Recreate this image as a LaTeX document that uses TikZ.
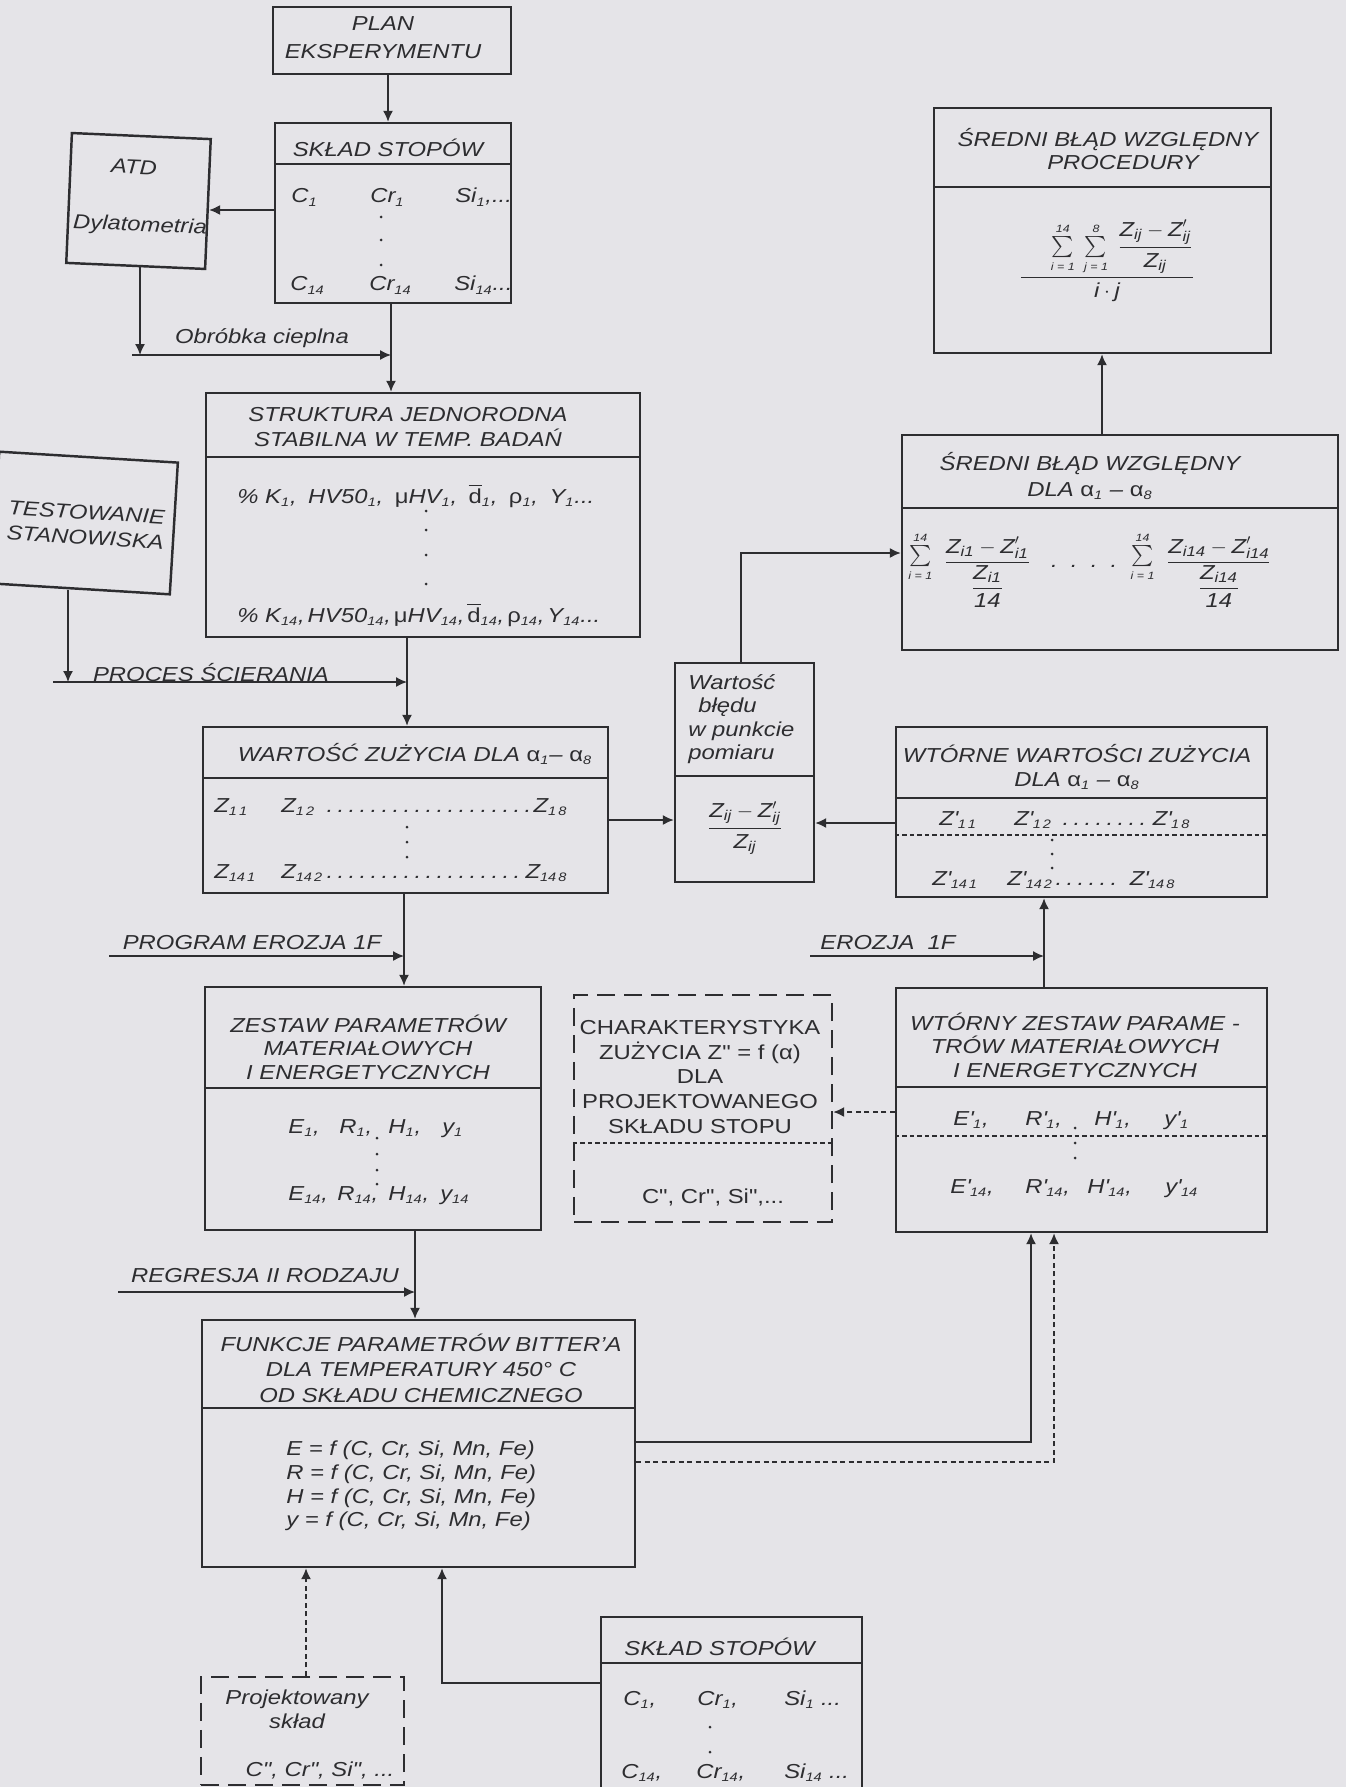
\documentclass[tikz,border=0pt]{standalone}
\usepackage{amsmath}
\usepackage{fontspec}
\setmainfont{Liberation Sans}[FakeStretch=1.18]
\newfontfamily\rawsans{Liberation Sans}[FakeStretch=1.18]
\usetikzlibrary{arrows.meta,fit,calc}
\definecolor{ink}{RGB}{45,45,48}
\definecolor{paper}{RGB}{229,228,232}
\newcommand{\lo}[1]{\textsubscript{\fontsize{7}{8}\selectfont #1}}
\newcommand{\zv}[1]{\text{Z}_{\text{#1}}}
\newcommand{\zq}[1]{\text{Z}'_{\text{#1}}}
\newcommand{\cellw}[2]{\makebox[#1][l]{#2}}
\newcommand{\dotfil}{\leaders\hbox to 0.22cm{\hss.\hss}\hfill}
\newcommand{\prm}{\textquotesingle}
\newcommand{\dq}{{\rawsans"}}
\newcommand{\zfrac}[1]{\dfrac{\zv{#1}-\zq{#1}}{\genfrac{}{}{}{0}{\zv{#1}}{\text{14}}}}
\newcommand{\lsum}[2]{\sum\limits_{\mbox{\fontsize{6}{6}\selectfont #1}}^{\mbox{\fontsize{6}{6}\selectfont #2}}}
\begin{document}
\begin{tikzpicture}[x=0.02cm, y=-0.02cm,
  every node/.style={font=\fontsize{11.5}{13.4}\selectfont\itshape, text=ink, inner sep=0pt},
  up/.style={font=\fontsize{11.5}{14.2}\selectfont\upshape},
  box/.style={draw=ink, line width=1.4pt},
  dbox/.style={draw=ink, line width=1.4pt, dash pattern=on 0.36cm off 0.18cm},
  conn/.style={draw=ink, line width=0.85pt},
  arr/.style={conn, -{Latex[length=0.22cm,width=0.2cm]}},
  darr/.style={arr, dash pattern=on 0.1cm off 0.07cm},
  divline/.style={draw=ink, line width=1pt},
  ddiv/.style={draw=ink, line width=0.8pt, dash pattern=on 0.09cm off 0.06cm}
]
\useasboundingbox (0,0) rectangle (1346,1787);
\fill[paper] (0,0) rectangle (1346,1787);

\node[box, fit={(273,7) (511,74)}] (plan) {};
\node[align=center] (planT) at (383,38) {PLAN\\[0.09cm]EKSPERYMENTU};

\node[box, fit={(275,123) (511,303)}] (sklad1) {};
\draw[divline] (sklad1.west |- 0,164) -- (sklad1.east |- 0,164);
\node[anchor=base] (skl1T) at (388,157) {SKŁAD STOPÓW};
\node[anchor=base west] (skl1R1) at (291,203) {\cellw{1.58cm}{C\lo{1}}\cellw{1.7cm}{Cr\lo{1}}Si\lo{1},...};
\node[anchor=base west] (skl1R2) at (290,291) {\cellw{1.58cm}{C\lo{14}}\cellw{1.7cm}{Cr\lo{14}}Si\lo{14}...};
\foreach \y in {217,240,265} \fill[ink] (381,\y) circle (0.03cm);

\node[box, minimum width=2.78cm, minimum height=2.6cm, rotate=-2.5] (atd) at (138.5,201) {};
\node[rotate=-2.5] (atdA) at (134,167) {ATD};
\node[rotate=-2.5] (atdB) at (140,226) {Dylatometria};

\node[box, fit={(206,393) (640,637)}] (struktura) {};
\draw[divline] (struktura.west |- 0,457) -- (struktura.east |- 0,457);
\node[align=center] (strT) at (408,427) {STRUKTURA JEDNORODNA\\[0.03cm]STABILNA W TEMP. BADAŃ};
\node[anchor=base west] (strR1) at (237,503) {\hbox to 7.14cm{\% K\lo{1},\hfil HV50\lo{1},\hfil \textup{μ}HV\lo{1},\hfil \textup{$\overline{\mbox{d}}$}\lo{1},\hfil \textup{ρ}\lo{1},\hfil Y\lo{1}...}};
\node[anchor=base west] (strR2) at (237,622) {\hbox to 7.26cm{\% K\lo{14},\hfil HV50\lo{14},\hfil \textup{μ}HV\lo{14},\hfil \textup{$\overline{\mbox{d}}$}\lo{14},\hfil \textup{ρ}\lo{14},\hfil Y\lo{14}...}};
\foreach \y in {511,530,555,584} \fill[ink] (426,\y) circle (0.03cm);

\node[box, minimum width=3.58cm, minimum height=2.64cm, rotate=-3.5] (testowanie) at (84.5,523) {};
\node[align=center, rotate=-3.5] (tesT) at (86,525) {TESTOWANIE\\[0.03cm]STANOWISKA};

\node[box, fit={(203,727) (608,893)}] (wartosc) {};
\draw[divline] (wartosc.west |- 0,778) -- (wartosc.east |- 0,778);
\node[anchor=base] (warT) at (415,761) {WARTOŚĆ ZUŻYCIA DLA \textup{α}\lo{1}– \textup{α}\lo{8}};
\node[anchor=base west] (warR1) at (214,812) {\hbox to 7.06cm{\cellw{1.34cm}{Z\lo{1\,1}}Z\lo{1\,2}\dotfil Z\lo{1\,8}}};
\node[anchor=base west] (warR2) at (214,878) {\hbox to 7.06cm{\cellw{1.34cm}{Z\lo{14\,1}}Z\lo{14\,2}\dotfil Z\lo{14\,8}}};
\foreach \y in {827,842,857} \fill[ink] (407,\y) circle (0.03cm);

\node[box, fit={(675,663) (814,882)}] (bledu) {};
\draw[divline] (bledu.west |- 0,776) -- (bledu.east |- 0,776);
\node[align=left, anchor=west] (bleT) at (688,719) {Wartość\\\hspace*{0.2cm}błędu\\w punkcie\\pomiaru};
\node (bleF) at (745,828) {$\dfrac{\zv{ij} - \zq{ij}}{\zv{ij}}$};

\node[box, fit={(902,435) (1338,650)}] (sredniDLA) {};
\draw[divline] (sredniDLA.west |- 0,508) -- (sredniDLA.east |- 0,508);
\node[align=center] (sdlT) at (1090,476) {ŚREDNI BŁĄD WZGLĘDNY\\[0.05cm]DLA \textup{α}\lo{1} – \textup{α}\lo{8}};
\node (sdlF) at (1090,570) {$\raisebox{0.12cm}{$\lsum{i = 1}{14}$}\;\;\zfrac{i1}\quad\text{.\ \ .\ \ .\ \ .}\ \ \raisebox{0.12cm}{$\lsum{i = 1}{14}$}\;\;\zfrac{i14}$};

\node[box, fit={(934,108) (1271,353)}] (sredniPROC) {};
\draw[divline] (sredniPROC.west |- 0,187) -- (sredniPROC.east |- 0,187);
\node[align=center] (sprT) at (1108,149) {ŚREDNI BŁĄD WZGLĘDNY\\\hspace*{0.6cm}PROCEDURY};
\node (sprF) at (1107,261) {$\dfrac{\hspace{0.6cm}\lsum{i = 1}{14}\;\lsum{j = 1}{8}\;\dfrac{\zv{ij}-\zq{ij}}{\zv{ij}}}{\text{i}\cdot\text{j}}$};

\node[box, fit={(896,727) (1267,897)}] (wtorne) {};
\draw[divline] (wtorne.west |- 0,798) -- (wtorne.east |- 0,798);
\draw[ddiv] (wtorne.west |- 0,835) -- (wtorne.east |- 0,835);
\node[align=center] (wtoT) at (1077,767) {WTÓRNE WARTOŚCI ZUŻYCIA\\DLA \textup{α}\lo{1} – \textup{α}\lo{8}};
\node[anchor=base west] (wtoR1) at (939,825) {\hbox to 5.02cm{\cellw{1.5cm}{Z\prm\lo{1\,1}}Z\prm\lo{1\,2}\dotfil Z\prm\lo{1\,8}}};
\node[anchor=base west] (wtoR2) at (932,885) {\hbox to 4.86cm{\cellw{1.5cm}{Z\prm\lo{14\,1}}Z\prm\lo{14\,2}\dotfil Z\prm\lo{14\,8}}};
\foreach \y in {840,854,868} \fill[ink] (1052,\y) circle (0.03cm);

\node[box, fit={(205,987) (541,1230)}] (zestaw) {};
\draw[divline] (zestaw.west |- 0,1088) -- (zestaw.east |- 0,1088);
\node[align=center] (zesT) at (368,1047) {ZESTAW PARAMETRÓW\\MATERIAŁOWYCH\\I ENERGETYCZNYCH};
\node[anchor=base west] (zesR1) at (288,1133) {\cellw{1.02cm}{E\lo{1},}\cellw{0.98cm}{R\lo{1},}\cellw{1.08cm}{H\lo{1},}y\lo{1}};
\node[anchor=base west] (zesR2) at (288,1200) {\cellw{0.98cm}{E\lo{14},}\cellw{1.02cm}{R\lo{14},}\cellw{1.04cm}{H\lo{14},}y\lo{14}};
\foreach \y in {1138,1154,1170,1184} \fill[ink] (377,\y) circle (0.03cm);

\node[dbox, fit={(574,995) (832,1222)}] (charakt) {};
\draw[ddiv] (charakt.west |- 0,1143) -- (charakt.east |- 0,1143);
\node[up, align=center] (chaT) at (700,1077) {CHARAKTERYSTYKA\\ZUŻYCIA Z\dq{} = f (α)\\DLA\\PROJEKTOWANEGO\\SKŁADU STOPU};
\node[up] (chaC) at (713,1197) {C\dq, Cr\dq, Si\dq,...};

\node[box, fit={(896,988) (1267,1232)}] (wtornyZ) {};
\draw[divline] (wtornyZ.west |- 0,1087) -- (wtornyZ.east |- 0,1087);
\draw[ddiv] (wtornyZ.west |- 0,1136) -- (wtornyZ.east |- 0,1136);
\node[align=center] (wzeT) at (1075,1045) {WTÓRNY ZESTAW PARAME -\\TRÓW MATERIAŁOWYCH\\I ENERGETYCZNYCH};
\node[anchor=base west] (wzeR1) at (953,1125) {\cellw{1.44cm}{E\prm\lo{1},}\cellw{1.38cm}{R\prm\lo{1},}\cellw{1.4cm}{H\prm\lo{1},}y\prm\lo{1}};
\node[anchor=base west] (wzeR2) at (950,1193) {\cellw{1.5cm}{E\prm\lo{14},}\cellw{1.24cm}{R\prm\lo{14},}\cellw{1.56cm}{H\prm\lo{14},}y\prm\lo{14}};
\foreach \y in {1128,1143,1158} \fill[ink] (1075,\y) circle (0.03cm);

\node[box, fit={(202,1320) (635,1567)}] (funkcje) {};
\draw[divline] (funkcje.west |- 0,1408) -- (funkcje.east |- 0,1408);
\node[align=center] (funT) at (421,1368) {FUNKCJE PARAMETRÓW BITTER'A\\[0.04cm]DLA TEMPERATURY 450° C\\[0.04cm]OD SKŁADU CHEMICZNEGO};
\node[align=left, anchor=west] (funE) at (286,1486) {E = f (C, Cr, Si, Mn, Fe)\\R = f (C, Cr, Si, Mn, Fe)\\H = f (C, Cr, Si, Mn, Fe)\\y = f (C, Cr, Si, Mn, Fe)};

\node[dbox, fit={(201,1677) (404,1785)}] (projekt) {};
\node[align=center] (proT) at (297,1709) {Projektowany\\skład};
\node (proC) at (320,1770) {C\dq, Cr\dq, Si\dq, ...};

\node[box, fit={(601,1617) (862,1800)}] (sklad2) {};
\draw[divline] (sklad2.west |- 0,1663) -- (sklad2.east |- 0,1663);
\node[anchor=base west] (skl2T) at (624,1655) {SKŁAD STOPÓW};
\node[anchor=base west] (skl2R1) at (623,1705) {\cellw{1.48cm}{C\lo{1},}\cellw{1.74cm}{Cr\lo{1},}Si\lo{1} ...};
\node[anchor=base west] (skl2R2) at (621,1778) {\cellw{1.5cm}{C\lo{14},}\cellw{1.76cm}{Cr\lo{14},}Si\lo{14} ...};
\foreach \y in {1727,1752} \fill[ink] (710,\y) circle (0.03cm);

\coordinate (obrL) at (132,355);
\coordinate (obrR) at (391,355);
\coordinate (procL) at (53,682);
\coordinate (procR) at (407,682);
\coordinate (progL) at (109,956);
\coordinate (progR) at (404,956);
\coordinate (erL) at (810,956);
\coordinate (erR) at (1044,956);
\coordinate (regL) at (118,1292);
\coordinate (regR) at (415,1292);

\draw[arr] (plan.south -| 388,0) -- (sklad1.north -| 388,0);
\draw[arr] (sklad1.west |- 0,210) -- (atd.east |- 0,210);
\draw[arr] (atd.south -| 140,0) -- (obrL -| 140,0);
\draw[arr] (obrL) -- (obrR);
\node (obrT) at (262,338) {Obróbka cieplna};
\draw[arr] (sklad1.south -| obrR) -- (struktura.north -| obrR);

\draw[arr] (testowanie.south -| 68,0) -- (procL -| 68,0);
\draw[arr] (procL) -- (procR);
\node (procT) at (211,673) {PROCES ŚCIERANIA};
\draw[arr] (struktura.south -| procR) -- (wartosc.north -| procR);

\draw[arr] (wartosc.east |- 0,820) -- (bledu.west |- 0,820);
\draw[arr] (wtorne.west |- 0,823) -- (bledu.east |- 0,823);
\draw[arr] (bledu.north -| 741,0) |- (sredniDLA.west |- 0,553);
\draw[arr] (sredniDLA.north -| 1102,0) -- (sredniPROC.south -| 1102,0);

\draw[arr] (wartosc.south -| progR) -- (zestaw.north -| progR);
\draw[arr] (progL) -- (progR);
\node (progT) at (252,943) {PROGRAM EROZJA 1F};

\draw[arr] (wtornyZ.north -| erR) -- (wtorne.south -| erR);
\draw[arr] (erL) -- (erR);
\node (erT) at (888,943) {EROZJA \ 1F};
\draw[darr] (wtornyZ.west |- 0,1112) -- (charakt.east |- 0,1112);

\draw[arr] (zestaw.south -| regR) -- (funkcje.north -| regR);
\draw[arr] (regL) -- (regR);
\node (regT) at (265,1276) {REGRESJA II RODZAJU};

\draw[darr] (projekt.north -| 306,0) -- (funkcje.south -| 306,0);
\draw[arr] (sklad2.west |- 0,1683) -| (funkcje.south -| 442,0);
\draw[arr] (funkcje.east |- 0,1442) -| (wtornyZ.south -| 1031,0);
\draw[darr] (funkcje.east |- 0,1462) -| (wtornyZ.south -| 1054,0);
\end{tikzpicture}
\end{document}
